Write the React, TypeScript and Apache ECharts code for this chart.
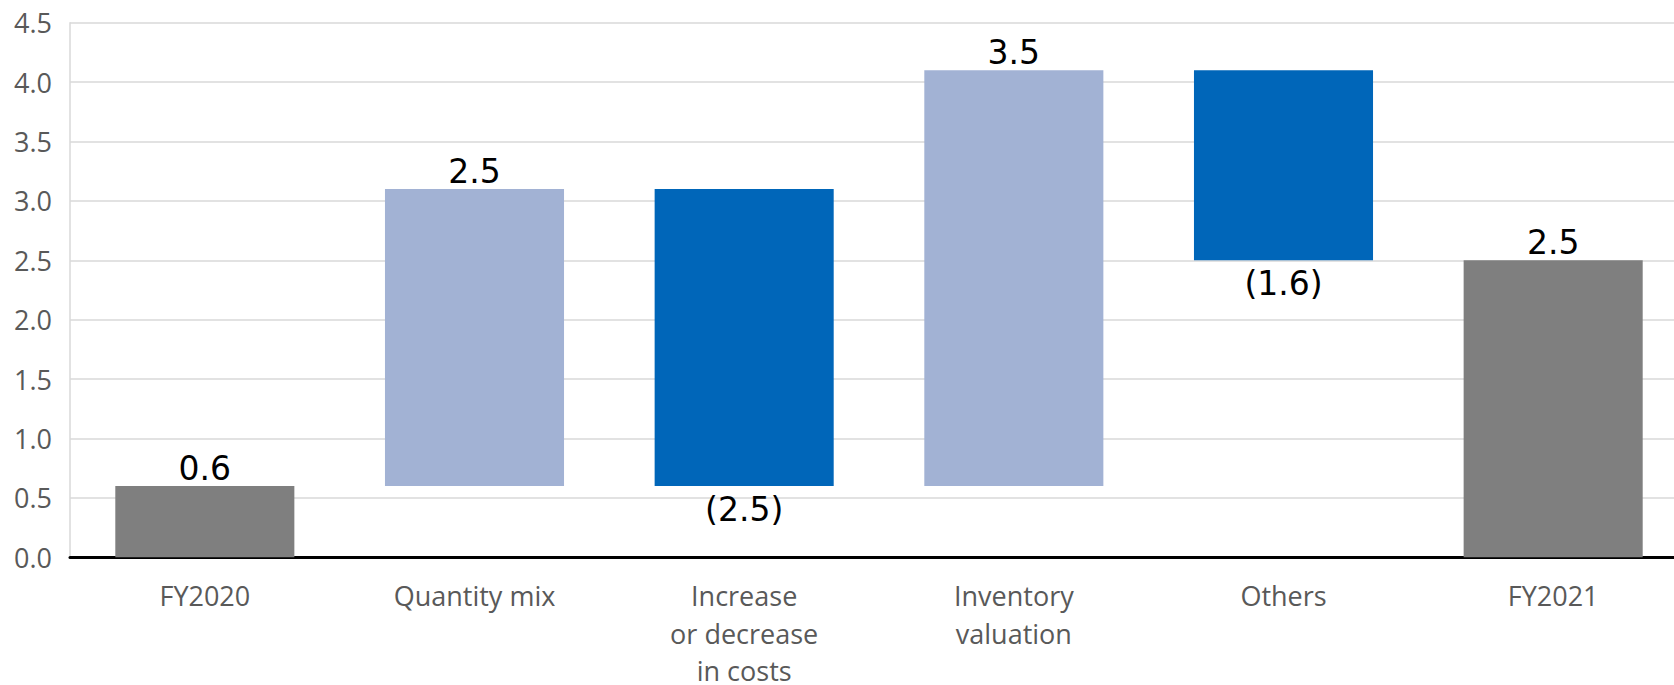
import React, { useEffect, useRef } from "react";
import * as echarts from "echarts";

const categories = [
  "FY2020",
  "Quantity mix",
  "Increase\nor decrease\nin costs",
  "Inventory\nvaluation",
  "Others",
  "FY2021",
];
// amount per step: first and last are totals, others are changes
const amounts = [0.6, 2.5, -2.5, 3.5, -1.6, 2.5];
const kinds = ["total", "change", "change", "change", "change", "total"];
const yTicks = { min: 0, max: 4.5, interval: 0.5 };

const COLOR_TOTAL = "#7f7f7f";
const COLOR_UP = "#a2b2d4";
const COLOR_DOWN = "#0066b9";

export default function App() {
  const ref = useRef<HTMLDivElement>(null);
  useEffect(() => {
    if (!ref.current) return;
    const chart = echarts.init(ref.current, undefined, { renderer: "svg" });

    const bases: number[] = [];
    const heights: number[] = [];
    let running = 0;
    amounts.forEach((a, i) => {
      if (kinds[i] === "total") {
        bases.push(0);
        heights.push(a);
        running = a;
      } else if (a >= 0) {
        bases.push(running);
        heights.push(a);
        running += a;
      } else {
        running += a;
        bases.push(running);
        heights.push(-a);
      }
    });

    const fmt = (v: number) => (v < 0 ? `(${Math.abs(v).toFixed(1)})` : v.toFixed(1));

    chart.setOption({
      animation: false,
      grid: {
        left: 70,
        top: 22.7,
        width: 1618,
        height: 534.5,
        containLabel: false,
        outerBoundsMode: "none",
      },
      xAxis: {
        type: "category",
        data: categories,
        axisLine: { show: true, lineStyle: { color: "#000", width: 3 } },
        axisTick: { show: false },
        axisLabel: {
          color: "#595959",
          fontFamily: "Open Sans",
          fontSize: 27,
          lineHeight: 37.5,
          margin: 20,
          interval: 0,
        },
      },
      yAxis: {
        type: "value",
        min: yTicks.min,
        max: yTicks.max,
        interval: yTicks.interval,
        axisLine: { show: true, lineStyle: { color: "#d9d9d9", width: 1.5 } },
        axisTick: { show: false },
        splitLine: { lineStyle: { color: "#d9d9d9", width: 1.5 } },
        axisLabel: {
          color: "#595959",
          fontFamily: "Open Sans",
          fontSize: 27,
          margin: 18,
          formatter: (v: number) => v.toFixed(1),
        },
      },
      series: [
        {
          type: "bar",
          stack: "wf",
          barWidth: "66.4%",
          itemStyle: { color: "transparent" },
          emphasis: { disabled: true },
          data: bases,
          silent: true,
        },
        {
          type: "bar",
          stack: "wf",
          barWidth: "66.4%",
          data: heights.map((h, i) => ({
            value: h,
            itemStyle: {
              color:
                kinds[i] === "total" ? COLOR_TOTAL : amounts[i] >= 0 ? COLOR_UP : COLOR_DOWN,
            },
            label: {
              show: true,
              position: amounts[i] < 0 ? "bottom" : "top",
              distance: amounts[i] < 0 ? 7 : 1,
              formatter: fmt(amounts[i]),
              color: "#000",
              fontFamily: "DejaVu Sans",
              fontSize: 33,
            },
          })),
        },
      ],
    });
    return () => chart.dispose();
  }, []);
  return (
    <div
      ref={ref}
      style={{ position: "fixed", left: 0, top: 0, width: 1674, height: 685, background: "#fff" }}
    />
  );
}
